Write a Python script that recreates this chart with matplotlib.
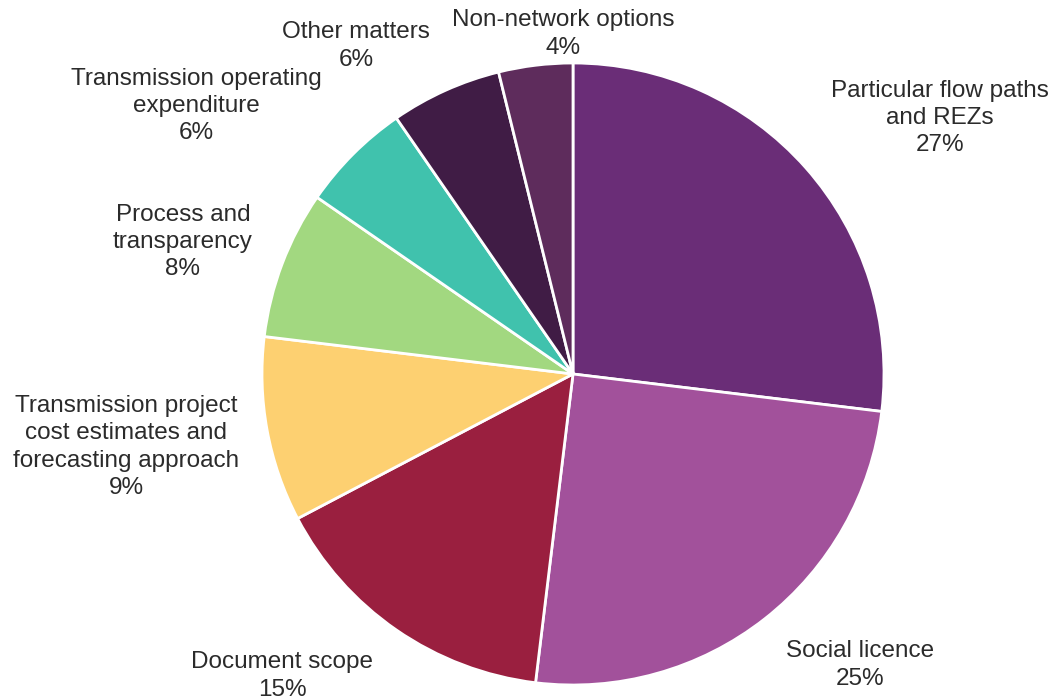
import matplotlib
matplotlib.use("Agg")
import matplotlib.pyplot as plt

# ============================================================
# DATA (clockwise from 12 o'clock)
# ============================================================

categories = [
    "Particular flow paths\nand REZs",
    "Social licence",
    "Document scope",
    "Transmission project\ncost estimates and\nforecasting approach",
    "Process and\ntransparency",
    "Transmission operating\nexpenditure",
    "Other matters",
    "Non-network options",
]
counts = [28, 26, 16, 10, 8, 6, 6, 4]
pct_labels = ["27%", "25%", "15%", "9%", "8%", "6%", "6%", "4%"]

colors = ["#6A2D77", "#A2519B", "#9A1F3F", "#FDD071",
          "#A2D880", "#40C2AD", "#401C45", "#5E2C5C"]

# label centres in pixels (x, y from top) of a 1054x700 canvas
label_px = [(940, 118), (860, 665), (282, 676), (126, 447),
            (183, 242), (196, 106), (356, 46), (563, 34)]

W, H = 1054, 700
CX, CY, R = 573, 374, 311

plt.rcParams["font.family"] = ["Liberation Sans", "DejaVu Sans"]

fig = plt.figure(figsize=(W / 100, H / 100), dpi=100)
ax = fig.add_axes([(CX - R) / W, (H - CY - R) / H, 2 * R / W, 2 * R / H])

ax.pie(
    counts,
    colors=colors,
    startangle=90,
    counterclock=False,
    radius=1.0,
    wedgeprops=dict(edgecolor="white", linewidth=2.0),
)
ax.set_xlim(-1, 1)
ax.set_ylim(-1, 1)
ax.set_aspect("equal")
ax.axis("off")

for cat, pct, (px, py) in zip(categories, pct_labels, label_px):
    fig.text(px / W, 1 - py / H, f"{cat}\n{pct}",
             ha="center", va="center", multialignment="center",
             fontsize=17.5, color="#2b2b2b", linespacing=1.3)

fig.savefig("out.png", dpi=100, facecolor="white")
